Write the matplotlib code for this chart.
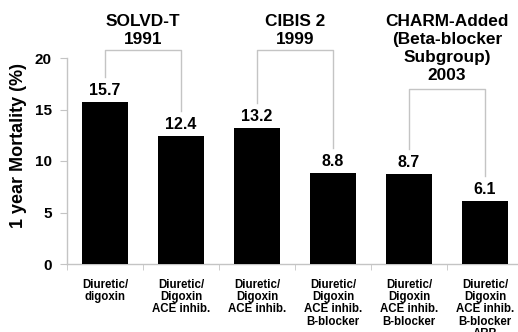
import matplotlib
matplotlib.use("Agg")
import matplotlib.pyplot as plt
import numpy as np

plt.rcParams['font.family'] = ['Liberation Sans', 'DejaVu Sans']
plt.rcParams['font.weight'] = 'bold'

categories = [
    "Diuretic/\ndigoxin",
    "Diuretic/\nDigoxin\nACE inhib.",
    "Diuretic/\nDigoxin\nACE inhib.",
    "Diuretic/\nDigoxin\nACE inhib.\nB-blocker",
    "Diuretic/\nDigoxin\nACE inhib.\nB-blocker",
    "Diuretic/\nDigoxin\nACE inhib.\nB-blocker\nARB",
]
mortality = [15.7, 12.4, 13.2, 8.8, 8.7, 6.1]
value_labels = ["15.7", "12.4", "13.2", "8.8", "8.7", "6.1"]

trials = ["SOLVD-T\n1991", "CIBIS 2\n1999", "CHARM-Added\n(Beta-blocker\nSubgroup)\n2003"]
trial_pairs = [(0, 1), (2, 3), (4, 5)]
bracket_tops = [20.8, 20.8, 17.0]
yticks = [0, 5, 10, 15, 20]

fig = plt.figure(figsize=(5.18, 3.32), dpi=100)
ax = fig.add_axes([67 / 518, 68 / 332, 456 / 518, 206 / 332])
ax.set_xlim(-0.5, 5.5)
ax.set_ylim(0, 20)

x = np.arange(len(mortality))
ax.bar(x, mortality, width=0.6, color='black', zorder=3)

for xi, v, lab in zip(x, mortality, value_labels):
    ax.annotate(lab, (xi, v), xytext=(0, 3), textcoords='offset points',
                ha='center', va='bottom', fontsize=11.5, fontweight='bold')

gray = '#c4c4c4'
leg_gap = 2.45
for (a, b), top, title in zip(trial_pairs, bracket_tops, trials):
    ax.plot([x[a], x[a], x[b], x[b]],
            [mortality[a] + leg_gap, top, top, mortality[b] + leg_gap],
            color=gray, lw=1.0, clip_on=False, zorder=2)
    xm = (x[a] + x[b]) / 2
    ax.annotate(title, xy=(xm, 1), xycoords=('data', 'figure fraction'),
                xytext=(0, -10), textcoords='offset points',
                ha='center', va='top', fontsize=12.4, fontweight='bold',
                linespacing=1.25, annotation_clip=False)

ax.set_yticks(yticks)
ax.set_yticklabels([str(t) for t in yticks], fontsize=11, fontweight='bold')
ax.set_xticks(x)
ax.set_xticklabels(categories, fontsize=8.3, fontweight='bold', linespacing=1.05,
                   va='top')
ax.set_xticks(np.arange(-0.5, 5.6, 1.0), minor=True)
ax.tick_params(axis='x', which='major', length=0, pad=10.5)
ax.tick_params(axis='x', which='minor', length=4, color=gray, direction='out')
ax.tick_params(axis='y', length=5, color=gray, direction='out', pad=6)

for side in ['top', 'right']:
    ax.spines[side].set_visible(False)
for side in ['left', 'bottom']:
    ax.spines[side].set_color(gray)
    ax.spines[side].set_linewidth(1.0)

ax.set_ylabel("1 year Mortality (%)", fontsize=13, fontweight='bold')
ax.yaxis.set_label_coords(-0.088, 0.575)

fig.savefig("out.png", dpi=100)
